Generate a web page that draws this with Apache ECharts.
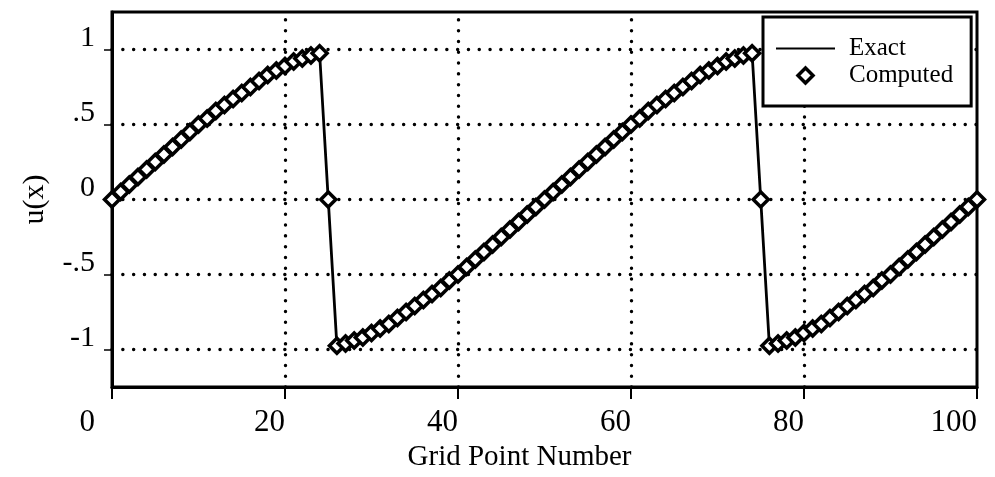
<!DOCTYPE html>
<html>
<head>
<meta charset="utf-8">
<script src="https://cdn.jsdelivr.net/npm/echarts@6/dist/echarts.min.js"></script>
<style>
  html, body { margin: 0; padding: 0; background: #fff; }
  #chart { width: 995px; height: 477px; }
</style>
</head>
<body>
<div id="chart"></div>
<script>
// Grid point numbers 0..100
const gridPoints = Array.from({ length: 101 }, (_, i) => i);

// Exact solution u(x) at each grid point
const exactU = [
  0, 0.05, 0.10, 0.15, 0.20, 0.25, 0.30, 0.35, 0.40, 0.45,
  0.50, 0.54, 0.59, 0.63, 0.67, 0.71, 0.75, 0.79, 0.83, 0.86,
  0.89, 0.92, 0.94, 0.96, 0.975, 0,
  -0.975, -0.96, -0.94, -0.92, -0.89, -0.86, -0.83, -0.79, -0.75, -0.71,
  -0.67, -0.63, -0.59, -0.54, -0.50, -0.45, -0.40, -0.35, -0.30, -0.25,
  -0.20, -0.15, -0.10, -0.05, 0,
  0.05, 0.10, 0.15, 0.20, 0.25, 0.30, 0.35, 0.40, 0.45, 0.50,
  0.54, 0.59, 0.63, 0.67, 0.71, 0.75, 0.79, 0.83, 0.86, 0.89,
  0.92, 0.94, 0.96, 0.975, 0,
  -0.975, -0.96, -0.94, -0.92, -0.89, -0.86, -0.83, -0.79, -0.75, -0.71,
  -0.67, -0.63, -0.59, -0.54, -0.50, -0.45, -0.40, -0.35, -0.30, -0.25,
  -0.20, -0.15, -0.10, -0.05, 0
];

// Computed solution u(x) at each grid point
const computedU = [
  0, 0.05, 0.10, 0.15, 0.20, 0.25, 0.30, 0.35, 0.40, 0.45,
  0.50, 0.54, 0.59, 0.63, 0.67, 0.71, 0.75, 0.79, 0.83, 0.86,
  0.89, 0.92, 0.94, 0.96, 0.975, 0,
  -0.975, -0.96, -0.94, -0.92, -0.89, -0.86, -0.83, -0.79, -0.75, -0.71,
  -0.67, -0.63, -0.59, -0.54, -0.50, -0.45, -0.40, -0.35, -0.30, -0.25,
  -0.20, -0.15, -0.10, -0.05, 0,
  0.05, 0.10, 0.15, 0.20, 0.25, 0.30, 0.35, 0.40, 0.45, 0.50,
  0.54, 0.59, 0.63, 0.67, 0.71, 0.75, 0.79, 0.83, 0.86, 0.89,
  0.92, 0.94, 0.96, 0.975, 0,
  -0.975, -0.96, -0.94, -0.92, -0.89, -0.86, -0.83, -0.79, -0.75, -0.71,
  -0.67, -0.63, -0.59, -0.54, -0.50, -0.45, -0.40, -0.35, -0.30, -0.25,
  -0.20, -0.15, -0.10, -0.05, 0
];

// Axis ticks and labels
const xGridLines = [20, 40, 60, 80];
const yTicks = [-1, -0.5, 0, 0.5, 1];
const yTickLabels = ['-1', '-.5', '0', '.5', '1'];

const FONT = 'Liberation Serif';

const chart = echarts.init(document.getElementById('chart'), null, { renderer: 'canvas' });

const dotted = { color: '#000', width: 3.4, type: [0.1, 10.7], cap: 'round' };

chart.setOption({
  animation: false,
  backgroundColor: '#fff',
  textStyle: { fontFamily: FONT, color: '#000' },
  grid: {
    left: 112, right: 18, top: 12, bottom: 84,
    show: true, borderColor: '#000', borderWidth: 3, backgroundColor: 'transparent'
  },
  legend: {
    orient: 'vertical',
    left: 763, top: 17,
    width: 210,
    padding: [18, 18, 17, 13],
    backgroundColor: '#fff',
    borderColor: '#000',
    borderWidth: 3,
    itemWidth: 59,
    itemHeight: 15,
    itemGap: 0,
    symbolKeepAspect: true,
    z: 10,
    textStyle: { fontFamily: FONT, fontSize: 25, color: '#000', lineHeight: 27, padding: [0, 0, 0, 9] },
    data: [
      {
        name: 'Exact',
        icon: 'path://M0,0 L59,0 L59,2.2 L0,2.2 Z',
        itemStyle: { color: '#000', borderWidth: 0 }
      },
      {
        name: 'Computed',
        icon: 'path://M8,0 L16,8 L8,16 L0,8 Z',
        itemStyle: { color: '#fff', borderColor: '#000', borderWidth: 3.5 }
      }
    ]
  },
  xAxis: {
    type: 'value',
    min: 0, max: 100, interval: 20,
    name: 'Grid Point Number',
    nameLocation: 'middle',
    nameGap: 50,
    nameTextStyle: { fontFamily: FONT, fontSize: 29, color: '#000', padding: [0, 50, 0, 0] },
    axisLine: { show: true, onZero: false, lineStyle: { color: '#000', width: 3 } },
    axisTick: { show: true, length: 12, lineStyle: { color: '#000', width: 2 } },
    splitLine: { show: false },
    axisLabel: {
      margin: 20,
      fontFamily: FONT, fontSize: 31, color: '#000',
      align: 'right',
      formatter: v => (v === 0 ? '{z|0}' : '{a|' + v + '}'),
      rich: {
        a: { fontFamily: FONT, fontSize: 31, color: '#000' },
        z: { fontFamily: FONT, fontSize: 31, color: '#000', padding: [0, 17, 0, 0] }
      }
    }
  },
  yAxis: {
    type: 'value',
    min: -1.25, max: 1.25,
    name: 'u(x)',
    nameLocation: 'middle',
    nameGap: 62,
    nameRotate: 90,
    nameTextStyle: { fontFamily: FONT, fontSize: 30, color: '#000' },
    axisLine: { show: true, onZero: false, lineStyle: { color: '#000', width: 3 } },
    axisTick: { show: true, length: 8, customValues: yTicks, lineStyle: { color: '#000', width: 1.5 } },
    splitLine: { show: false },
    axisLabel: {
      customValues: yTicks,
      margin: 17,
      fontFamily: FONT, fontSize: 30, color: '#000',
      lineHeight: 22,
      verticalAlign: 'bottom',
      formatter: v => {
        const i = yTicks.findIndex(t => Math.abs(t - v) < 1e-9);
        return i >= 0 ? yTickLabels[i] : '';
      }
    }
  },
  series: [
    {
      name: 'Exact',
      type: 'line',
      data: gridPoints.map((g, i) => [g, exactU[i]]),
      symbol: 'none',
      lineStyle: { color: '#000', width: 2.8 },
      itemStyle: { color: '#000' },
      z: 2,
      markLine: {
        silent: true,
        z: 1,
        symbol: ['none', 'none'],
        label: { show: false },
        lineStyle: dotted,
        emphasis: { disabled: true },
        data: [
          ...xGridLines.map(v => ({ xAxis: v })),
          ...yTicks.map(v => ({ yAxis: v }))
        ]
      }
    },
    {
      name: 'Computed',
      type: 'scatter',
      data: gridPoints.map((g, i) => [g, computedU[i]]),
      symbol: 'diamond',
      symbolSize: 15,
      itemStyle: { color: '#fff', borderColor: '#000', borderWidth: 3.5, opacity: 1 },
      z: 3
    }
  ]
});
</script>
</body>
</html>
